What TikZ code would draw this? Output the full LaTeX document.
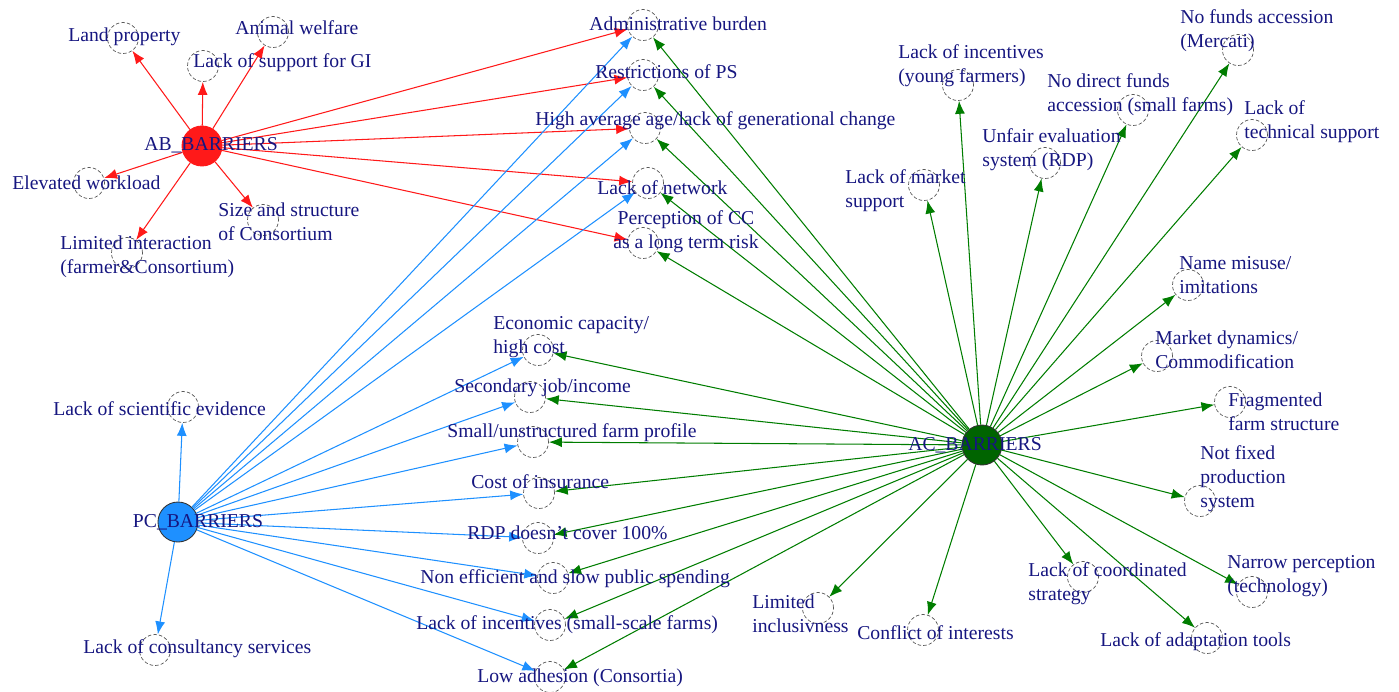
\documentclass[tikz,border=0pt]{standalone}
\usepackage{fontspec}
\setmainfont{Liberation Serif}
\usepackage{xcolor}
\usetikzlibrary{arrows.meta, positioning, calc}
\definecolor{abRed}{RGB}{255,25,25}
\definecolor{pcBlue}{RGB}{30,144,255}
\definecolor{acGreen}{RGB}{0,125,0}
\definecolor{hubGreen}{RGB}{0,100,0}
\definecolor{txtNavy}{RGB}{22,22,128}
\newcommand{\barArrow}{{Latex[length=2.6mm, width=2mm]}}

\tikzset{
	spot/.style={circle, draw=black!65, line width=0.4pt, dash pattern=on 2pt off 1.2pt, minimum size=0.62cm, inner sep=0pt},
	hub/.style={circle, minimum size=0.8cm, inner sep=0pt, line width=0.5pt},
	tag/.style={text=txtNavy, inner sep=0pt, font=\fontsize{11.2}{13.6}\selectfont, align=left, anchor=west},
	ablink/.style={abRed, line width=0.6pt, -\barArrow},
	pclink/.style={pcBlue, line width=0.6pt, -\barArrow},
	aclink/.style={acGreen, line width=0.6pt, -\barArrow},
}

\begin{document}
\begin{tikzpicture}[x=0.02cm, y=-0.02cm]
	\useasboundingbox (0,0) rectangle (1399,691);

	% hubs
	\node[hub, fill=abRed, draw=abRed]		(ab) at (202,146) {};
	\node[hub, fill=pcBlue, draw=black!80]	(pc) at (178,522) {};
	\node[hub, fill=hubGreen, draw=black!80]	(ac) at (982,445) {};

	% barrier spots
	\foreach \name/\x/\y in {land/123/38, supgi/203/66, animal/273/32, elev/89/183, size/263/220, limint/127/253,
		admin/643/25, restr/643/75, highage/645/128, network/648/183, percep/643/243,
		sci/183/407, consult/155/650, econ/538/350, second/530/397, small/533/442, insur/539/493,
		rdp/538/538, nonef/553/578, incsm/550/625, lowad/550/677,
		incy/958/85, unfair/1045/163, market/924/185, direct/1133/110, mercati/1238/50, tech/1252/135,
		misuse/1188/285, mdyn/1157/356, frag/1230/402, notfix/1200/501, narrow/1252/592, adapt/1207/638,
		coord/1083/577, conflict/923/630, limincl/818/608} {
		\node[spot] (\name) at (\x,\y) {};
	}

	\foreach \t in {land, supgi, animal, elev, size, limint, admin, restr, highage, network, percep} {
		\draw[ablink]	(ab) -- (\t);
	}
	\foreach \t in {sci, consult, admin, restr, highage, network, econ, second, small, insur, rdp, nonef, incsm, lowad} {
		\draw[pclink]	(pc) -- (\t);
	}
	\foreach \t in {admin, restr, highage, network, percep, econ, second, small, insur, rdp, nonef, incsm, lowad,
		incy, unfair, market, direct, mercati, tech, misuse, mdyn, frag, notfix, narrow, adapt, coord, conflict, limincl} {
		\draw[aclink]	(ac) -- (\t);
	}

	% labels
	\node[tag, anchor=center] (ab-t) at (211,145) {AB\_BARRIERS};
	\node[tag, anchor=center] (pc-t) at (198,522) {PC\_BARRIERS};
	\node[tag, anchor=center] (ac-t) at (975,445) {AC\_BARRIERS};

	\node[tag] (land-t)		at (68,37)		{Land property};
	\node[tag] (supgi-t)	at (193,63)		{Lack of support for GI};
	\node[tag] (animal-t)	at (235,28)		{Animal welfare};
	\node[tag] (elev-t)		at (12,183)		{Elevated workload};
	\node[tag] (size-t)		at (218,221.5)	{Size and structure\\of Consortium};
	\node[tag] (limint-t)	at (60,257)		{Limited interaction\\(farmer\&Consortium)};

	\node[tag] (admin-t)	at (589,24)		{Administrative burden};
	\node[tag] (restr-t)	at (595,72)		{Restrictions of PS};
	\node[tag] (highage-t)	at (535,121)	{High average age/lack of generational change};
	\node[tag] (network-t)	at (597,188)	{Lack of network};
	\node[tag, align=center, anchor=center] (percep-t) at (686,232) {Perception of CC\\as a long term risk};

	\node[tag] (sci-t)		at (53,409)		{Lack of scientific evidence};
	\node[tag] (consult-t)	at (83,649)		{Lack of consultancy services};
	\node[tag] (econ-t)		at (493,337.5)	{Economic capacity/\\high cost};
	\node[tag] (second-t)	at (454,388)	{Secondary job/income};
	\node[tag] (small-t)	at (447,433)	{Small/unstructured farm profile};
	\node[tag] (insur-t)	at (471,482)	{Cost of insurance};
	\node[tag] (rdp-t)		at (467,533)	{RDP doesn't cover 100\%};
	\node[tag] (nonef-t)	at (420,579)	{Non efficient and slow public spending};
	\node[tag] (incsm-t)	at (416,625)	{Lack of incentives (small-scale farms)};
	\node[tag] (lowad-t)	at (477,678)	{Low adhesion (Consortia)};

	\node[tag] (incy-t)		at (898,65.5)	{Lack of incentives\\(young farmers)};
	\node[tag] (unfair-t)	at (982,149.5)	{Unfair evaluation\\system (RDP)};
	\node[tag] (market-t)	at (845,190.5)	{Lack of market\\support};
	\node[tag] (direct-t)	at (1047,95)	{No direct funds\\accession (small farms)};
	\node[tag] (mercati-t)	at (1180,30.5)	{No funds accession\\(Mercati)};
	\node[tag] (tech-t)		at (1244,121.5)	{Lack of\\technical support};
	\node[tag] (misuse-t)	at (1179,275.5)	{Name misuse/\\imitations};
	\node[tag] (mdyn-t)		at (1155,350)	{Market dynamics/\\Commodification};
	\node[tag] (frag-t)		at (1228,411.5)	{Fragmented\\farm structure};
	\node[tag] (notfix-t)	at (1200,478.5)	{Not fixed\\production\\system};
	\node[tag] (narrow-t)	at (1227,576.5)	{Narrow perception\\(technology)};
	\node[tag] (adapt-t)	at (1100,642)	{Lack of adaptation tools};
	\node[tag] (coord-t)	at (1028,583.5)	{Lack of coordinated\\strategy};
	\node[tag] (conflict-t)	at (857,633)	{Conflict of interests};
	\node[tag] (limincl-t)	at (752,614)	{Limited\\inclusivness};

\end{tikzpicture}
\end{document}
